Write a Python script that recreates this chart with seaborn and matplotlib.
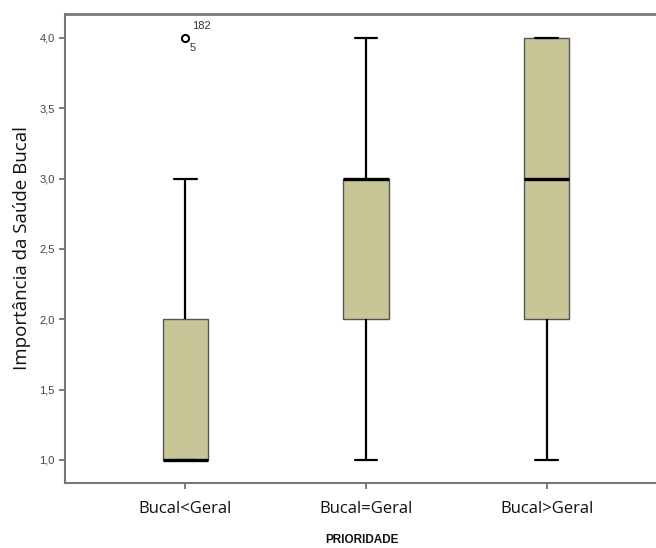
import matplotlib.pyplot as plt
import seaborn as sns
import pandas as pd
import numpy as np

# counts of answers 1..4 for each priority group
grupos = ['Bucal<Geral', 'Bucal=Geral', 'Bucal>Geral']
niveis = [1, 2, 3, 4]
contagem_menor = [10, 5, 2, 2]
contagem_igual = [3, 8, 10, 3]
contagem_maior = [2, 5, 5, 8]
casos_outlier = ['182', '5']   # case ids of the outliers in Bucal<Geral

y_ticks = [1.0, 1.5, 2.0, 2.5, 3.0, 3.5, 4.0]

sns.set_theme(style="white")
plt.rcParams['font.family'] = ['Liberation Sans', 'DejaVu Sans']


def plot_boxplot():
    linhas = []
    for g, cont in zip(grupos, [contagem_menor, contagem_igual, contagem_maior]):
        for v in np.repeat(niveis, cont):
            linhas.append({'PRIORIDADE': g, 'valor': float(v)})
    df = pd.DataFrame(linhas)

    fig = plt.figure(figsize=(6.56, 5.48), dpi=100)
    ax = fig.add_axes([0.099, 0.1186, 0.905, 0.856])

    sns.boxplot(
        data=df, x='PRIORIDADE', y='valor', order=grupos, ax=ax,
        width=0.25, color='#c8c696', linecolor='#555555', linewidth=1.0,
        saturation=1,
        medianprops=dict(color='black', linewidth=2.4),
        whiskerprops=dict(color='black', linewidth=1.6),
        capprops=dict(color='black', linewidth=1.6),
        flierprops=dict(marker='o', markerfacecolor='white', markeredgecolor='black',
                        markersize=5, markeredgewidth=1.3),
    )

    # label the outliers of the first group with their case numbers
    v = df.loc[df['PRIORIDADE'] == grupos[0], 'valor']
    q1, q3 = np.percentile(v, [25, 75])
    out_val = v[v > q3 + 1.5 * (q3 - q1)].max()
    ax.annotate(casos_outlier[0], xy=(0, out_val), xytext=(5, 5), textcoords='offset points',
                fontsize=8, color='#333333', ha='left', va='bottom')
    ax.annotate(casos_outlier[1], xy=(0, out_val), xytext=(3, -4), textcoords='offset points',
                fontsize=8, color='#333333', ha='left', va='top')

    ax.set_xlim(-0.667, 2.62)
    ax.set_ylim(0.836, 4.17)
    ax.set_yticks(y_ticks)
    ax.set_yticklabels([f'{t:.1f}'.replace('.', ',') for t in y_ticks],
                       fontsize=8, color='#444444')
    ax.set_xticks(range(len(grupos)))
    ax.set_xticklabels(grupos, fontsize=12, color='#111111', family=['Open Sans', 'DejaVu Sans'])
    ax.tick_params(axis='both', direction='out', length=4, width=1.2, color='#666666',
                   left=True, bottom=True)
    ax.tick_params(axis='x', pad=9)

    ax.set_ylabel('Importância da Saúde Bucal', fontsize=13.5, color='#111111',
                  family=['Open Sans', 'DejaVu Sans'], labelpad=6)
    ax.set_xlabel('PRIORIDADE', fontsize=8.5, fontweight='bold', color='#111111', labelpad=12)

    for s in ['left', 'bottom', 'top']:
        ax.spines[s].set_color('#777777')
        ax.spines[s].set_linewidth(1.5)
    ax.spines['top'].set_linewidth(2.0)
    ax.spines['right'].set_visible(False)

    fig.savefig('out.png', dpi=100)


if __name__ == "__main__":
    plot_boxplot()
